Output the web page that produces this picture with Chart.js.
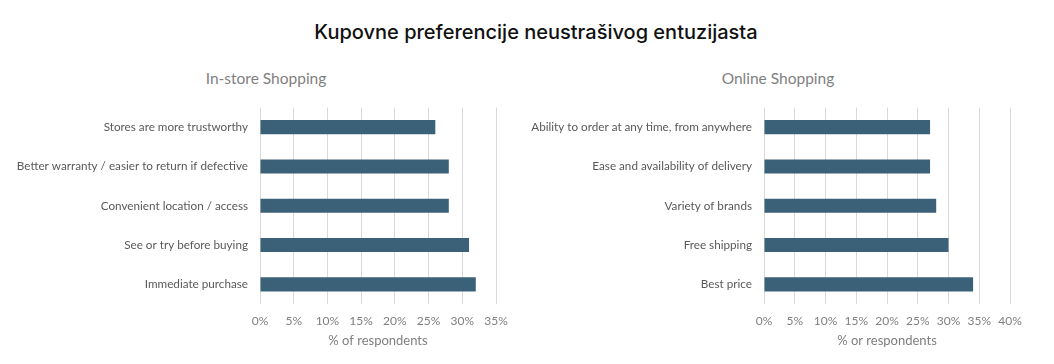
<!DOCTYPE html>
<html>
<head>
<meta charset="utf-8">
<script src="https://cdn.jsdelivr.net/npm/chart.js@4/dist/chart.umd.min.js"></script>
<style>
    body { margin: 0; background: #fff; }
    #wrap { position: relative; width: 1054px; height: 364px; overflow: hidden; }
    h1 {
        position: absolute; top: 17px; left: 9px; width: 1054px; margin: 0;
        text-align: center; font-family: Inter, sans-serif; font-weight: 500;
        font-size: 20px; color: #111; line-height: 30px;
    }
    .sub {
        position: absolute; top: 68px; width: 300px; margin: 0;
        text-align: center; font-family: Lato, sans-serif; font-size: 15.5px;
        color: #7f7f7f; line-height: 20px;
    }
    .box { position: absolute; top: 55px; width: 527px; height: 309px; }
</style>
</head>
<body>
<div id="wrap">
    <h1>Kupovne preferencije neustrašivog entuzijasta</h1>
    <div class="sub" style="left:116px">In-store Shopping</div>
    <div class="sub" style="left:628px">Online Shopping</div>
    <div class="box" style="left:0"><canvas id="storeChart"></canvas></div>
    <div class="box" style="left:515px"><canvas id="onlineChart"></canvas></div>
</div>
<script>
// Chart data
const storeLabels = [
    "Stores are more trustworthy",
    "Better warranty / easier to return if defective",
    "Convenient location / access",
    "See or try before buying",
    "Immediate purchase"
]
const storeValues = [26, 28, 28, 31, 32]

const onlineLabels = [
    "Ability to order at any time, from anywhere",
    "Ease and availability of delivery",
    "Variety of brands",
    "Free shipping",
    "Best price"
]
const onlineValues = [27, 27, 28, 30, 34]

const barColor = '#3b6179'
const labelFont = 'Lato, sans-serif'

function makeChart(id, labels, values, maxX, axisTitle, axisWidth, padRight) {
    const ctx = document.getElementById(id)
    return new Chart(ctx, {
        type: 'bar',
        data: {
            labels: labels,
            datasets: [{
                data: values,
                backgroundColor: barColor,
                categoryPercentage: 1,
                barPercentage: 0.36
            }]
        },
        options: {
            indexAxis: 'y',
            responsive: true,
            maintainAspectRatio: false,
            animation: false,
            layout: { padding: { top: 52.5, bottom: 4, right: padRight, left: 0 } },
            plugins: {
                legend: { display: false },
                tooltip: { enabled: false },
                title: { display: false }
            },
            scales: {
                x: {
                    min: 0,
                    max: maxX,
                    grid: { color: '#d9d9d9', drawTicks: false },
                    border: { display: false },
                    ticks: {
                        stepSize: 5,
                        padding: 10,
                        color: '#7f7f7f',
                        font: { family: labelFont, size: 12 },
                        callback: v => v + '%'
                    },
                    title: {
                        display: true,
                        text: axisTitle,
                        color: '#7f7f7f',
                        font: { family: labelFont, size: 13 },
                        padding: { top: -5, bottom: 11 }
                    }
                },
                y: {
                    grid: { display: false, drawTicks: false },
                    border: { display: false },
                    ticks: {
                        padding: 12,
                        color: '#595959',
                        font: { family: labelFont, size: 11.7 }
                    },
                    afterFit: function(scale) { scale.width = axisWidth }
                }
            }
        }
    })
}

document.addEventListener('DOMContentLoaded', function() {
    makeChart('storeChart', storeLabels, storeValues, 35, '% of respondents', 260, 31)
    makeChart('onlineChart', onlineLabels, onlineValues, 40, '% or respondents', 249, 32)
})
</script>
</body>
</html>
